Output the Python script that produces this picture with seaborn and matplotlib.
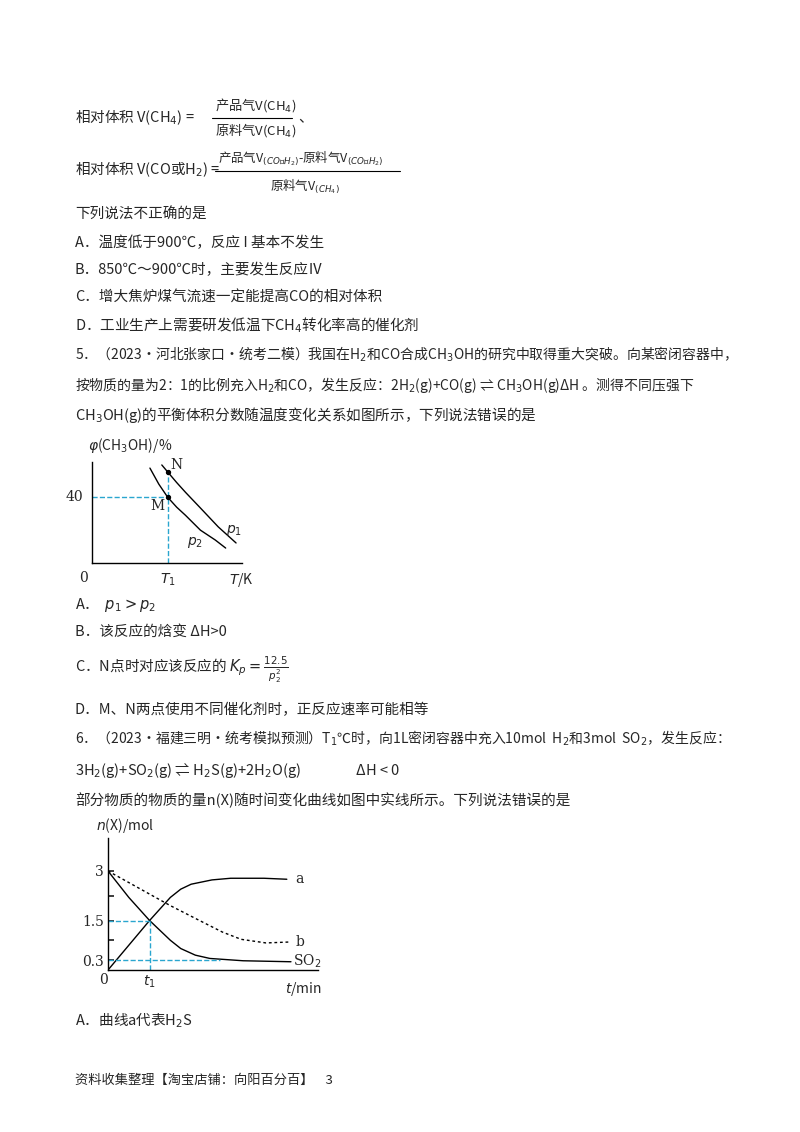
import matplotlib
matplotlib.use("Agg")
import matplotlib.pyplot as plt
import seaborn as sns
import numpy as np

sns.set_theme(style="white")
plt.rcParams['font.family'] = ['Noto Sans CJK SC', 'DejaVu Sans']

# Chart 1 data: phi(CH3OH) vs T
p2_T = [3.9, 4.5, 5.1, 5.7, 6.3, 7.3, 8.3, 9.0]
p2_phi = [57.8, 48, 40, 34, 29, 20, 14, 9.1]
p1_T = [4.7, 5.1, 5.7, 6.3, 7.3, 8.5, 9.7]
p1_phi = [59.7, 55.4, 49, 43, 33.5, 22, 12.2]
T1 = 5.1
M_phi = 40
N_phi = 55.4

# Chart 2 data: n(X) vs t
a_t = [0, 2, 3, 3.5, 4, 5, 5.9, 7.5, 8.6]
a_n = [0, 1.5, 2.2, 2.45, 2.6, 2.73, 2.78, 2.78, 2.75]
so2_t = [0, 1, 2, 3, 3.5, 4.2, 4.9, 6.5, 8.8]
so2_n = [3, 2.2, 1.5, 0.9, 0.65, 0.45, 0.35, 0.28, 0.25]
b_t = [0, 1, 2, 3, 4.4, 5.5, 6.4, 7.6, 8.8]
b_n = [3, 2.65, 2.3, 1.95, 1.5, 1.15, 0.93, 0.82, 0.85]
yticks2 = [0.3, 1.5, 3]

W, H = 800, 1132
fig = plt.figure(figsize=(8, 11.32), dpi=100)
fig.patch.set_facecolor("white")
FS = 10.5

def T(x, y, s, size=FS, **kw):
    fig.text(x / W, 1 - y / H, s, fontsize=size, va="center", ha="left", **kw)

def hline(x0, x1, y):
    fig.add_artist(plt.Line2D([x0 / W, x1 / W], [1 - y / H, 1 - y / H], color="black", lw=0.8))

T(75, 118, "相对体积 V(CH$_4$) =")
T(215, 105, "产品气V(CH$_4$)", 9.5)
hline(212, 292, 118)
T(215, 130, "原料气V(CH$_4$)", 9.5)
T(298, 118, "、")
T(75, 170, "相对体积 V(CO或H$_2$) =")
T(218, 158, "产品气V$_{(CO或H_2)}$-原料气V$_{(CO或H_2)}$", 9)
hline(215, 400, 171)
T(270, 186, "原料气V$_{(CH_4)}$", 9)
T(75, 215, "下列说法不正确的是")
T(75, 243, "A．温度低于900℃，反应 I 基本不发生")
T(75, 270, "B．850℃～900℃时，主要发生反应Ⅳ")
T(75, 298, "C．增大焦炉煤气流速一定能提高CO的相对体积")
T(75, 325, "D．工业生产上需要研发低温下CH$_4$转化率高的催化剂")
T(75, 354, "5．（2023·河北张家口·统考二模）我国在H$_2$和CO合成CH$_3$OH的研究中取得重大突破。向某密闭容器中，", 10)
T(75, 385, "按物质的量为2：1的比例充入H$_2$和CO，发生反应：2H$_2$(g)+CO(g) ⇌ CH$_3$OH(g)ΔH 。测得不同压强下", 10)
T(75, 415, "CH$_3$OH(g)的平衡体积分数随温度变化关系如图所示，下列说法错误的是")
T(75, 605, "A．  $p_1 > p_2$")
T(75, 632, "B．该反应的焓变 ΔH>0")
T(75, 670, "C．N点时对应该反应的 $K_p = \\frac{12.5}{p_2^2}$")
T(75, 710, "D．M、N两点使用不同催化剂时，正反应速率可能相等")
T(75, 738, "6．（2023·福建三明·统考模拟预测）T$_1$℃时，向1L密闭容器中充入10mol  H$_2$和3mol  SO$_2$，发生反应：", 10)
T(75, 770, "3H$_2$(g)+SO$_2$(g) ⇌ H$_2$S(g)+2H$_2$O(g)                 ΔH < 0")
T(75, 800, "部分物质的物质的量n(X)随时间变化曲线如图中实线所示。下列说法错误的是")
T(75, 1020, "A．曲线a代表H$_2$S")
T(75, 1080, "资料收集整理【淘宝店铺：向阳百分百】    3", 9.5)

blue = "#2aa6cf"

# Chart 1
ax1 = fig.add_axes([92 / W, 1 - 563 / H, 150 / W, 101 / H])
sns.lineplot(x=p2_T, y=p2_phi, ax=ax1, color="black", lw=1)
sns.lineplot(x=p1_T, y=p1_phi, ax=ax1, color="black", lw=1)
ax1.plot([0, T1], [M_phi, M_phi], ls="--", color=blue, lw=1)
ax1.plot([T1, T1], [0, N_phi], ls="--", color=blue, lw=1)
ax1.scatter([T1, T1], [M_phi, N_phi], color="black", s=8, zorder=5)
ax1.set_xlim(0, 10.1)
ax1.set_ylim(0, 61.5)
ax1.set_xticks([]); ax1.set_yticks([])
for s in ["top", "right"]:
    ax1.spines[s].set_visible(False)
for s in ["left", "bottom"]:
    ax1.spines[s].set_color("black"); ax1.spines[s].set_linewidth(1)
ax1.text(T1 + 0.2, N_phi + 2, "N", fontsize=10, family="DejaVu Serif")
ax1.text(T1 - 1.2, M_phi - 8, "M", fontsize=10, family="DejaVu Serif")
ax1.text(9.0, 18, "$p_1$", fontsize=10)
ax1.text(6.4, 11, "$p_2$", fontsize=10)
ax1.text(-0.6, 40, "40", fontsize=10, ha="right", va="center", family="DejaVu Serif")
ax1.text(-0.3, -5, "0", fontsize=10, ha="right", va="top", family="DejaVu Serif")
ax1.text(T1, -5, "$T_1$", fontsize=10, ha="center", va="top")
ax1.text(9.2, -5, "$T$/K", fontsize=10, ha="left", va="top")
ax1.text(-0.3, 66, "$\\varphi$(CH$_3$OH)/%", fontsize=10, ha="left", va="bottom")

# Chart 2
ax2 = fig.add_axes([108 / W, 1 - 970 / H, 210 / W, 132 / H])
sns.lineplot(x=a_t, y=a_n, ax=ax2, color="black", lw=1)
sns.lineplot(x=so2_t, y=so2_n, ax=ax2, color="black", lw=1)
sns.lineplot(x=b_t, y=b_n, ax=ax2, color="black", lw=1, ls=(0, (2, 2)))
ax2.plot([0, 2], [1.5, 1.5], ls="--", color=blue, lw=1)
ax2.plot([2, 2], [0, 1.5], ls="--", color=blue, lw=1)
ax2.plot([0, 5.4], [0.3, 0.3], ls="--", color=blue, lw=1)
ax2.set_xlim(0, 10.1)
ax2.set_ylim(0, 4.0)
ax2.set_xticks([])
ax2.set_yticks(yticks2 + [0.9, 2.25])
ax2.set_yticklabels(["0.3", "1.5", "3", "", ""], family="DejaVu Serif", fontsize=10)
ax2.tick_params(axis="y", direction="in", length=4, left=True, pad=3)
for s in ["top", "right"]:
    ax2.spines[s].set_visible(False)
for s in ["left", "bottom"]:
    ax2.spines[s].set_color("black"); ax2.spines[s].set_linewidth(1)
ax2.text(9.0, 2.75, "a", fontsize=10, va="center", family="DejaVu Serif")
ax2.text(9.0, 0.85, "b", fontsize=10, va="center", family="DejaVu Serif")
ax2.text(8.9, 0.25, "SO$_2$", fontsize=10, va="center", family="DejaVu Serif")
ax2.text(-0.2, -0.1, "0", fontsize=10, ha="center", va="top", family="DejaVu Serif")
ax2.text(2, -0.1, "$t_1$", fontsize=10, ha="center", va="top")
ax2.text(8.5, -0.3, "$t$/min", fontsize=10, ha="left", va="top")
ax2.text(-0.6, 4.1, "$n$(X)/mol", fontsize=10, ha="left", va="bottom")

fig.savefig("out.png", dpi=100, facecolor="white")
